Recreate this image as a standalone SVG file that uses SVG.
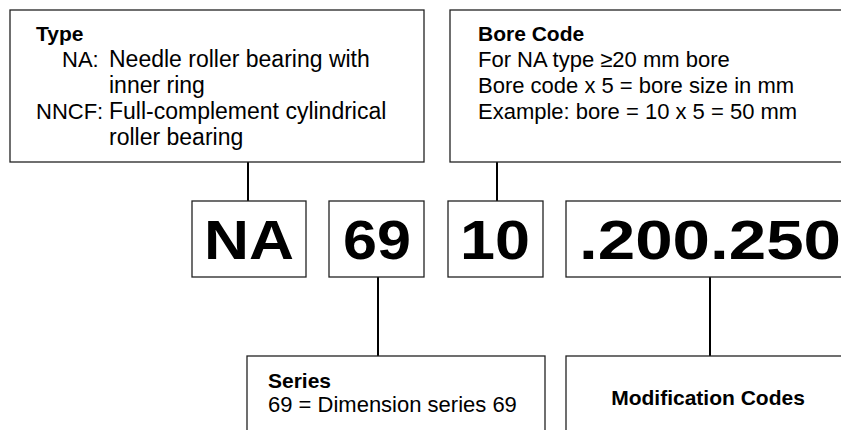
<svg xmlns="http://www.w3.org/2000/svg" width="841" height="430" viewBox="0 0 841 430">
<style>
.box{fill:#fff;stroke:#222;stroke-width:1.3}
.conn{stroke:#000;stroke-width:2;fill:none}
.t{font-family:"Liberation Sans",Arial,sans-serif;font-size:22px;fill:#000}
.t2{font-family:"Liberation Sans",Arial,sans-serif;font-size:23px;fill:#000}
.h{font-family:"Liberation Sans",Arial,sans-serif;font-size:21px;font-weight:bold;fill:#000}
.big{font-family:"Liberation Sans",Arial,sans-serif;font-size:55px;font-weight:bold;fill:#000}
</style>
<rect width="841" height="430" fill="#fff"/>
<g id="connectors">
<line class="conn" x1="248" y1="162" x2="248" y2="201"/>
<line class="conn" x1="497" y1="162" x2="497" y2="201"/>
<line class="conn" x1="378" y1="277" x2="378" y2="356"/>
<line class="conn" x1="710" y1="277" x2="710" y2="356"/>
</g>
<g id="type">
<rect class="box" x="10" y="10" width="414" height="152"/>
<text class="h" x="36" y="41">Type</text>
<text class="t" x="62" y="67">NA:</text>
<text class="t2" x="109" y="67">Needle roller bearing with</text>
<text class="t2" x="109" y="93">inner ring</text>
<text class="t" x="36" y="119">NNCF:</text>
<text class="t2" x="109" y="119">Full-complement cylindrical</text>
<text class="t2" x="109" y="145">roller bearing</text>
</g>
<g id="bore">
<rect class="box" x="450" y="10" width="400" height="152"/>
<text class="h" x="478" y="41">Bore Code</text>
<text class="t" x="478" y="67">For NA type ≥20 mm bore</text>
<text class="t" x="478" y="93">Bore code x 5 = bore size in mm</text>
<text class="t" x="478" y="119">Example: bore = 10 x 5 = 50 mm</text>
</g>
<g id="na">
<rect class="box" x="192" y="201" width="114" height="76"/>
<text class="big" x="249" y="259" text-anchor="middle" textLength="90" lengthAdjust="spacingAndGlyphs">NA</text>
</g>
<g id="s69">
<rect class="box" x="329" y="201" width="95" height="76"/>
<text class="big" x="377" y="259" text-anchor="middle" textLength="68" lengthAdjust="spacingAndGlyphs">69</text>
</g>
<g id="s10">
<rect class="box" x="448" y="201" width="95" height="76"/>
<text class="big" x="495" y="259" text-anchor="middle" textLength="70" lengthAdjust="spacingAndGlyphs">10</text>
</g>
<g id="mod">
<rect class="box" x="566" y="201" width="290" height="76"/>
<text class="big" x="579" y="259" textLength="262" lengthAdjust="spacingAndGlyphs">.200.250</text>
</g>
<g id="series">
<rect class="box" x="247" y="356" width="298" height="90"/>
<text class="h" x="268" y="388">Series</text>
<text class="t" x="268" y="412">69 = Dimension series 69</text>
</g>
<g id="modcodes">
<rect class="box" x="566" y="356" width="290" height="90"/>
<text class="h" x="708" y="405" text-anchor="middle">Modification Codes</text>
</g>
</svg>
